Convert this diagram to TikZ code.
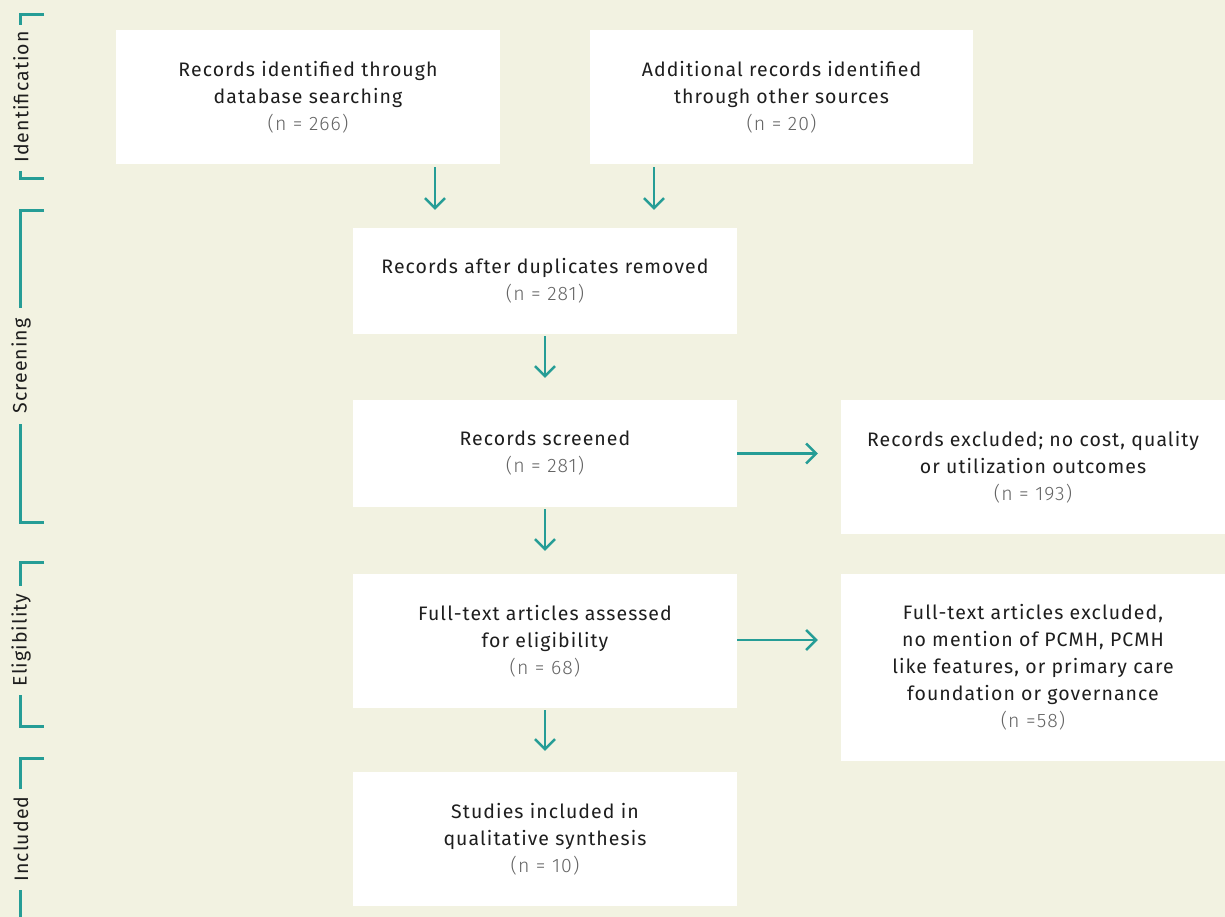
\documentclass[tikz,border=0pt]{standalone}
\usepackage{fontspec}
\setmainfont{Fira Sans}[LetterSpace=5.5]
\newfontfamily\lightfont{Fira Sans Light}[LetterSpace=5.5]
\usetikzlibrary{arrows.meta}
\definecolor{bgc}{RGB}{242,242,225}
\definecolor{teal1}{RGB}{38,157,150}
\definecolor{txt}{RGB}{30,30,30}
\definecolor{ntxt}{RGB}{100,100,100}
\tikzset{
  box/.style={fill=white, draw=none, minimum width=384pt, align=center, text=txt,
    font=\fontsize{19.5}{27}\selectfont, inner sep=0pt},
  arr/.style={draw=teal1, line width=2.5pt, -{Straight Barb[length=10pt,width=20pt,line width=2.5pt]}},
  brk/.style={draw=teal1, line width=3pt},
  stage/.style={rotate=90, text=txt, font=\fontsize{19.5}{20}\selectfont, inner sep=0pt},
}
\newcommand{\nn}[1]{\\{\lightfont\color{ntxt}#1}}
\begin{document}
\begin{tikzpicture}[x=1pt,y=-1pt]
\fill[bgc] (0,0) rectangle (1225,917);
\useasboundingbox (0,0) rectangle (1225,917);

\node[box, minimum height=134pt] (b1) at (308,97) {Records identified through\\database searching\nn{(n = 266)}};
\node[box, minimum height=134pt, minimum width=383pt] (b2) at (781.5,97) {Additional records identified\\through other sources\nn{(n = 20)}};
\node[box, minimum height=106pt] (b3) at (545,281) {Records after duplicates removed\nn{(n = 281)}};
\node[box, minimum height=107pt] (b4) at (545,453.5) {Records screened\nn{(n = 281)}};
\node[box, minimum height=134pt] (b5) at (1033,467) {Records excluded; no cost, quality\\or utilization outcomes\nn{(n = 193)}};
\node[box, minimum height=134pt] (b6) at (545,641) {Full-text articles assessed\\for eligibility\nn{(n = 68)}};
\node[box, minimum height=187pt] (b7) at (1033,667.5) {Full-text articles excluded,\\no mention of PCMH, PCMH\\like features, or primary care\\foundation or governance\nn{(n =58)}};
\node[box, minimum height=134pt] (b8) at (545,839) {Studies included in\\qualitative synthesis\nn{(n = 10)}};

\draw[arr, shorten <=3pt, shorten >=18pt] ([xshift=127pt]b1.south) -- ([xshift=127pt]b1.south |- b3.north);
\draw[arr, shorten <=3pt, shorten >=18pt] ([xshift=-127.5pt]b2.south) -- ([xshift=-127.5pt]b2.south |- b3.north);
\draw[arr, shorten <=2pt, shorten >=22pt] (b3.south) -- (b4.north);
\draw[arr, shorten <=2pt, shorten >=23pt] (b4.south) -- (b6.north);
\draw[arr, shorten <=2pt, shorten >=21pt] (b6.south) -- (b8.north);
\draw[arr, shorten >=23pt] (b4.east) -- (b4.east -| b5.west);
\draw[arr, shorten >=23pt] (b6.east |- 0,640) -- (b7.west |- 0,640);

% stage brackets
\node[stage] (s1) at (21,97) {Identification};
\node[stage] (s2) at (21,366) {Screening};
\node[stage] (s3) at (21,640) {Eligibility};
\node[stage] (s4) at (21,839) {Included};
\draw[brk] (44,15) -- (20,15) -- (20,25);
\draw[brk] (20,171) -- (20,179) -- (44,179);
\draw[brk] (44,211) -- (20,211) -- (20,308);
\draw[brk] (20,424) -- (20,522) -- (44,522);
\draw[brk] (44,562) -- (20,562) -- (20,586);
\draw[brk] (20,695) -- (20,726) -- (44,726);
\draw[brk] (44,758) -- (20,758) -- (20,789);
\draw[brk] (20,890) -- (20,917);
\end{tikzpicture}
\end{document}
